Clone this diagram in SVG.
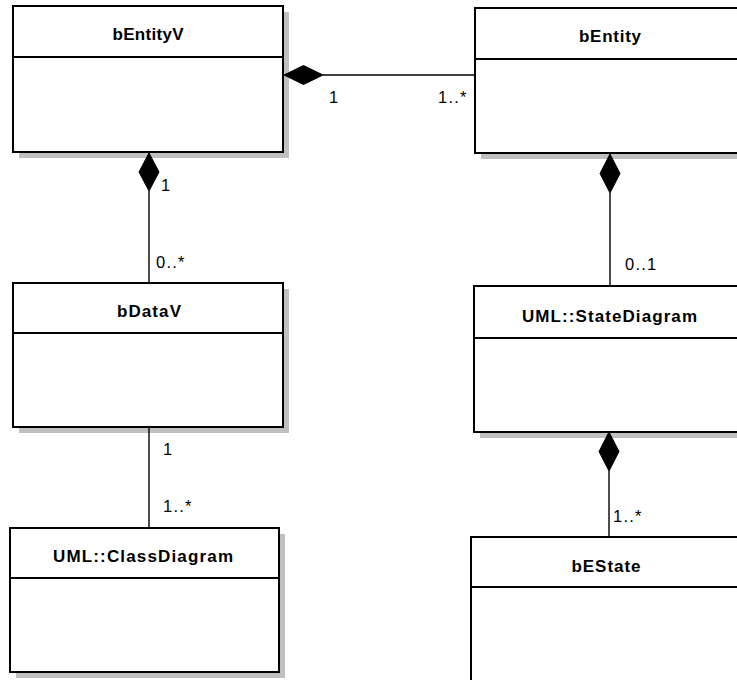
<svg xmlns="http://www.w3.org/2000/svg" width="737" height="680" viewBox="0 0 737 680">
  <style>
    .shadow { fill: #c0c0c0; stroke: none; }
    .box { fill: #ffffff; stroke: #000000; stroke-width: 2; }
    .div { stroke: #000000; stroke-width: 2; }
    .title { font-family: "Liberation Sans", Arial, sans-serif; font-size: 17px; font-weight: bold; fill: #000000; text-anchor: middle; }
    .mult { font-family: "Liberation Sans", Arial, sans-serif; font-size: 16.5px; fill: #000000; letter-spacing: 1.2px; }
    .conn { stroke: #000000; stroke-width: 1.4; fill: none; }
    .diamond { fill: #000000; stroke: #000000; stroke-width: 1; }
  </style>

  <rect width="737" height="680" fill="#ffffff"/>

  <!-- classes -->
  <g id="bEntityV">
    <rect class="shadow" x="19" y="12" width="270" height="146"/>
    <rect class="box" x="13" y="6" width="270" height="146"/>
    <line class="div" x1="13" y1="57" x2="283" y2="57"/>
    <text class="title" x="148" y="40" textLength="71" lengthAdjust="spacing">bEntityV</text>
  </g>

  <g id="bEntity">
    <rect class="shadow" x="481" y="14" width="270" height="145"/>
    <rect class="box" x="475" y="8" width="270" height="145"/>
    <line class="div" x1="475" y1="59" x2="745" y2="59"/>
    <text class="title" x="610" y="42" textLength="62" lengthAdjust="spacing">bEntity</text>
  </g>

  <g id="bDataV">
    <rect class="shadow" x="19" y="289" width="270" height="144"/>
    <rect class="box" x="13" y="283" width="270" height="144"/>
    <line class="div" x1="13" y1="333" x2="283" y2="333"/>
    <text class="title" x="149" y="317" textLength="64" lengthAdjust="spacing">bDataV</text>
  </g>

  <g id="StateDiagram">
    <rect class="shadow" x="480" y="292" width="271" height="146"/>
    <rect class="box" x="474" y="286" width="271" height="146"/>
    <line class="div" x1="474" y1="338" x2="745" y2="338"/>
    <text class="title" x="609.5" y="322" textLength="175" lengthAdjust="spacing">UML::StateDiagram</text>
  </g>

  <g id="ClassDiagram">
    <rect class="shadow" x="16" y="534" width="269" height="144"/>
    <rect class="box" x="10" y="528" width="269" height="144"/>
    <line class="div" x1="10" y1="578" x2="279" y2="578"/>
    <text class="title" x="143" y="562" textLength="180" lengthAdjust="spacing">UML::ClassDiagram</text>
  </g>

  <g id="bEState">
    <rect class="shadow" x="477" y="543" width="274" height="160"/>
    <rect class="box" x="471" y="537" width="274" height="160"/>
    <line class="div" x1="471" y1="587" x2="745" y2="587"/>
    <text class="title" x="606" y="572" textLength="69" lengthAdjust="spacing">bEState</text>
  </g>

  <!-- associations -->
  <g id="connectors">
    <!-- bEntityV <>— bEntity -->
    <line class="conn" x1="323" y1="75" x2="475" y2="75"/>
    <polygon class="diamond" points="284,75 303.5,65.5 323,75 303.5,84.5"/>
    <text class="mult" x="329" y="103">1</text>
    <text class="mult" x="438" y="103">1..*</text>

    <!-- bEntityV <>— bDataV -->
    <line class="conn" x1="149" y1="191" x2="149" y2="283"/>
    <polygon class="diamond" points="149,153 159,172 149,191 139,172"/>
    <text class="mult" x="161" y="191">1</text>
    <text class="mult" x="156" y="268">0..*</text>

    <!-- bEntity <>— UML::StateDiagram -->
    <line class="conn" x1="610" y1="193" x2="610" y2="286"/>
    <polygon class="diamond" points="610,154 620,173.5 610,193 600,173.5"/>
    <text class="mult" x="625" y="270">0..1</text>

    <!-- bDataV — UML::ClassDiagram -->
    <line class="conn" x1="149" y1="427" x2="149" y2="528"/>
    <text class="mult" x="163" y="455">1</text>
    <text class="mult" x="163" y="512">1..*</text>

    <!-- UML::StateDiagram <>— bEState -->
    <line class="conn" x1="609" y1="471" x2="609" y2="537"/>
    <polygon class="diamond" points="609,432 619,451.5 609,471 599,451.5"/>
    <text class="mult" x="613" y="522">1..*</text>
  </g>
</svg>
